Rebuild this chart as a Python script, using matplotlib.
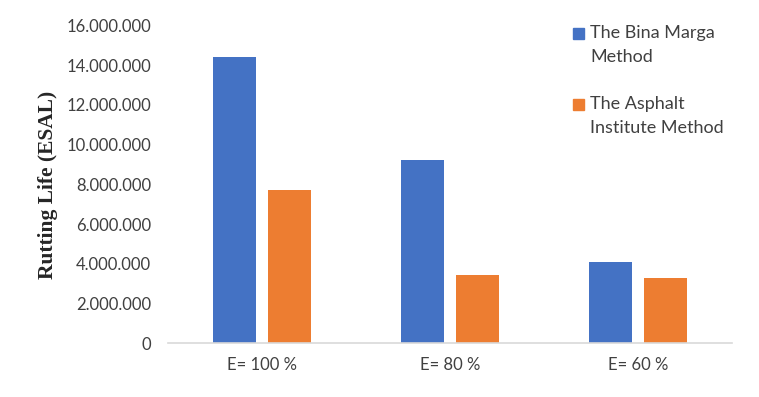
import matplotlib.pyplot as plt
import matplotlib.ticker as ticker
from matplotlib.patches import Rectangle
import numpy as np

# Data
categories = ["E= 100 %", "E= 80 %", "E= 60 %"]
bina_marga = [14410000, 9230000, 4090000]
asphalt_inst = [7720000, 3450000, 3280000]
series_names = ["The Bina Marga\nMethod", "The Asphalt\nInstitute Method"]
colors = ["#4472C4", "#ED7D31"]

plt.rcParams['font.family'] = ['Lato', 'DejaVu Sans']

W, H = 759, 397
fig = plt.figure(figsize=(W / 100, H / 100), dpi=100)
ax = fig.add_axes([0.2213, 0.1348, 0.7431, 0.801])

X = np.arange(len(categories))
w = 0.229
off = w / 2 + 0.032
ax.bar(X - off, bina_marga, w, color=colors[0])
ax.bar(X + off, asphalt_inst, w, color=colors[1])

ax.set_xlim(-0.5, 2.5)
ax.set_ylim(0, 16000000)
ax.yaxis.set_major_locator(ticker.MultipleLocator(2000000))
ax.yaxis.set_major_formatter(ticker.FuncFormatter(lambda v, p: f"{int(v):,}".replace(",", ".")))
ax.set_xticks(X, categories)
ax.tick_params(axis="both", length=0, labelsize=12, colors="#404040")
ax.tick_params(axis="x", pad=10)
ax.tick_params(axis="y", pad=12)

for s in ["top", "right", "left"]:
    ax.spines[s].set_visible(False)
ax.spines["bottom"].set_color("#d9d9d9")
ax.spines["bottom"].set_linewidth(1.2)

ax.set_ylabel("Rutting Life (ESAL)", family="Liberation Serif", fontweight="bold",
              fontsize=15.5, color="#262626", labelpad=6)

# legend, drawn by hand so the square sits by the first line
for i, (name, c) in enumerate(zip(series_names, colors)):
    yc = 33 + i * 71  # pixel centre of first line
    fig.patches.append(Rectangle((573 / W, 1 - (yc + 5.5) / H), 11 / W, 11 / H,
                                 transform=fig.transFigure, color=c))
    fig.text(590 / W, 1 - (yc - 8) / H, name, fontsize=13, color="#404040",
             va="top", ha="left", linespacing=1.65)

plt.savefig("out.png", dpi=100)
